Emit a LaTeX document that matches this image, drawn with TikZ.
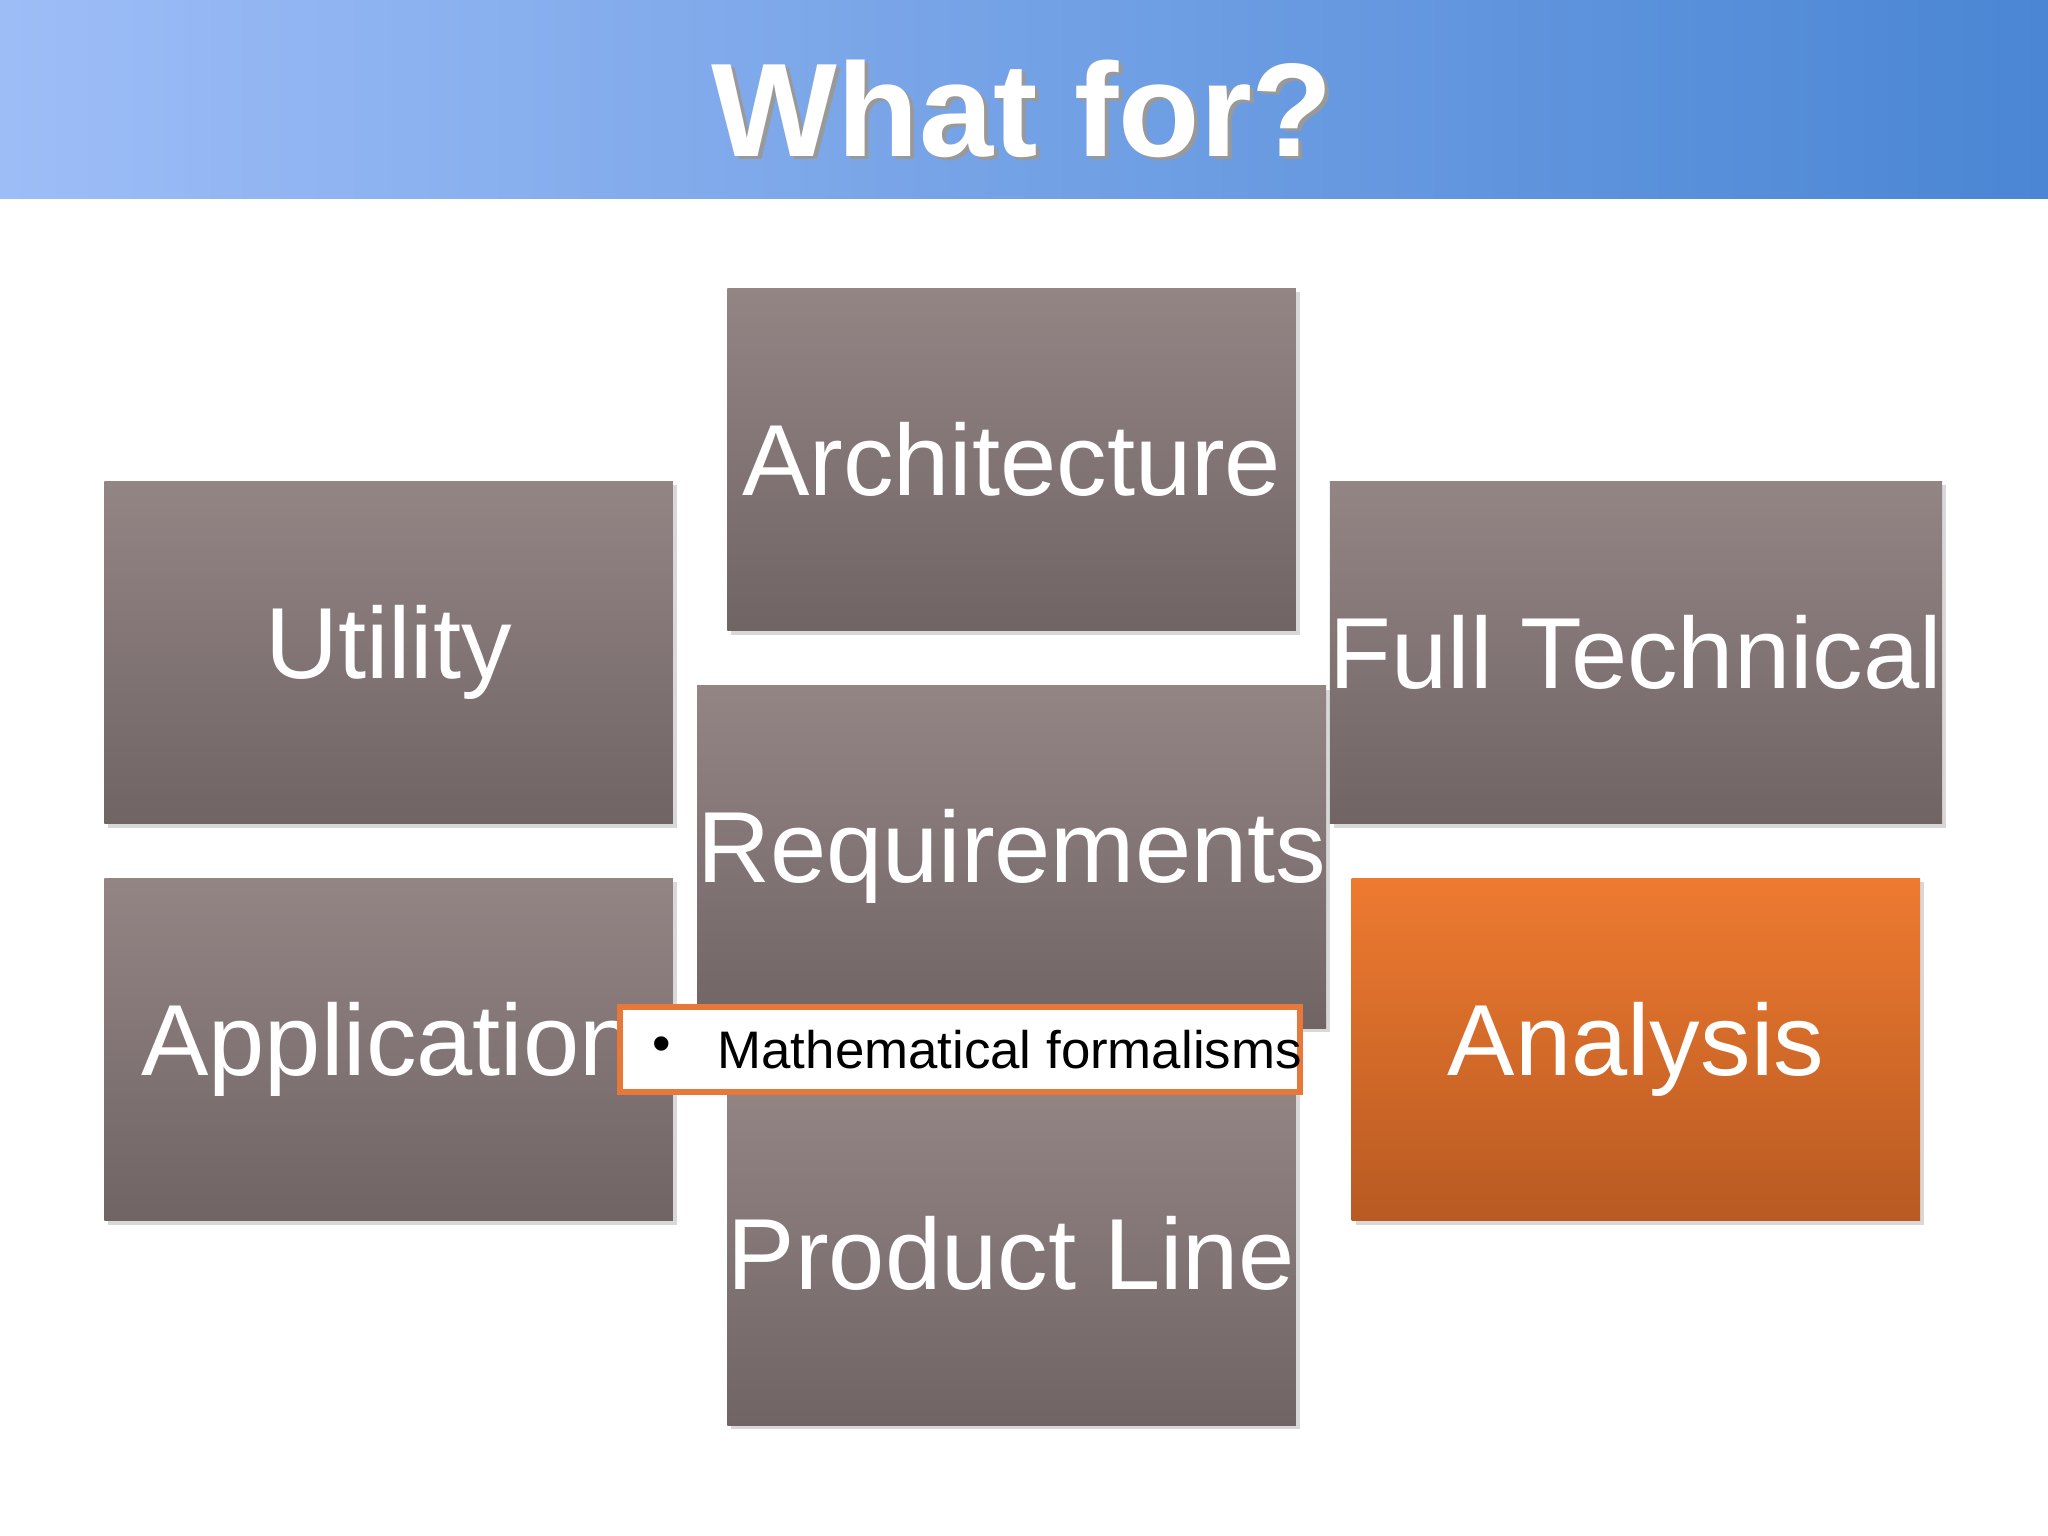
\documentclass[tikz,border=0pt]{standalone}
\usepackage{fontspec}
\setmainfont{Liberation Sans}
\usetikzlibrary{shadows}
\definecolor{gtop}{HTML}{938584}
\definecolor{gbot}{HTML}{716465}
\definecolor{otop}{HTML}{EE7A30}
\definecolor{obot}{HTML}{B85A22}
\definecolor{hl}{HTML}{9DBDF7}
\definecolor{hr}{HTML}{4A86D4}
\definecolor{oborder}{HTML}{E8773A}
\begin{document}
\begin{tikzpicture}[x=0.01cm,y=-0.01cm,
  tile/.style={minimum width=4.35cm,minimum height=2.62cm,inner sep=0pt,
    top color=gtop,bottom color=gbot,text=white,font=\fontsize{22}{26}\selectfont,
    drop shadow={shadow xshift=0.03cm,shadow yshift=-0.03cm,opacity=0.3}},
  otile/.style={tile,top color=otop,bottom color=obot}]
\useasboundingbox (0,0) rectangle (1568,1176);
\fill[white] (0,0) rectangle (1568,1176);
\shade[left color=hl,right color=hr] (0,0) rectangle (1568,152);
\node[text=black!40,font=\bfseries\fontsize{29}{34}\selectfont] at (786,86) {What for?};
\node (title)[text=white,font=\bfseries\fontsize{29}{34}\selectfont] at (783,83) {What for?};
\node (arch)[tile] at (774.5,352) {Architecture};
\node (util)[tile] at (297.5,499.5) {Utility};
\node (full)[tile] at (1252.5,499.5) {Full Technical};
\node (req)[tile] at (774.5,656) {Requirements};
\node (app)[tile] at (297.5,803.5) {Application};
\node (ana)[otile] at (1252.5,803.5) {Analysis};
\node (prod)[tile] at (774.5,960) {Product Line};
\node (math)[draw=oborder,line width=1.2pt,fill=white,minimum width=5.2cm,minimum height=0.65cm,
  inner sep=0pt] at (735,803.5) {};
\node[anchor=west,font=\fontsize{11.5}{14}\selectfont] at (487,803.5) {•};
\node[anchor=west,font=\fontsize{11.5}{14}\selectfont] at (537,803.5) {Mathematical formalisms};
\end{tikzpicture}
\end{document}
